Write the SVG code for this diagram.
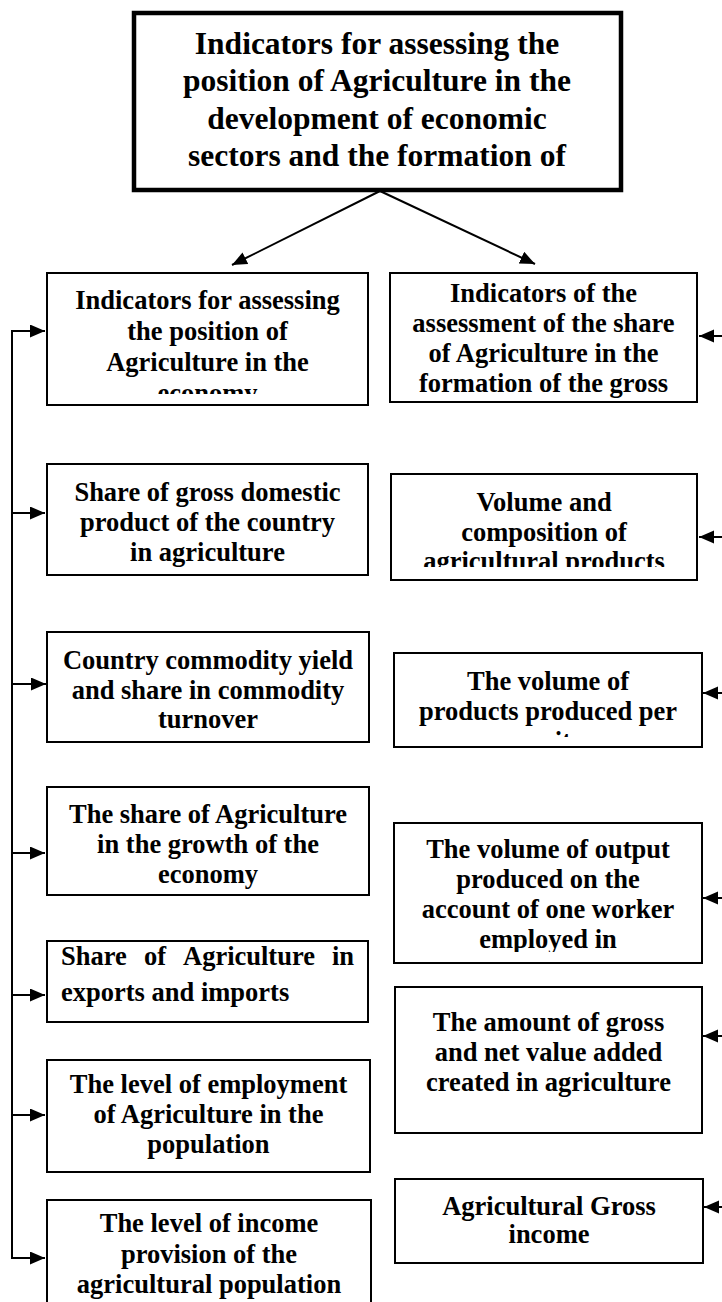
<svg xmlns="http://www.w3.org/2000/svg" width="722" height="1302" viewBox="0 0 722 1302">
<style>
.box{fill:#fff;stroke:#000;stroke-width:2}
.top{fill:#fff;stroke:#000;stroke-width:4.5}
.t{font-family:"Liberation Serif","Times New Roman",serif;font-weight:bold;font-size:26.5px;fill:#000;text-anchor:middle}
.tt{font-family:"Liberation Serif","Times New Roman",serif;font-weight:bold;font-size:31.5px;fill:#000;text-anchor:middle}
.tl{font-family:"Liberation Serif","Times New Roman",serif;font-weight:bold;font-size:26.5px;fill:#000}
.c{fill:none;stroke:#000;stroke-width:2}
</style>
<defs>
<marker id="ah" markerUnits="userSpaceOnUse" markerWidth="16" markerHeight="14" refX="15" refY="6.5" orient="auto">
<path d="M0,0 L15,6.5 L0,13 z" fill="#000"/>
</marker>
<clipPath id="cL1"><rect x="47" y="273" width="321" height="121"/></clipPath>
<clipPath id="cR2"><rect x="391" y="474" width="306" height="93"/></clipPath>
<clipPath id="cR3"><rect x="394" y="653" width="308" height="84"/></clipPath>
<clipPath id="cR4"><rect x="394" y="823" width="308" height="129"/></clipPath>
</defs>

<g id="connectors">
<line class="c" x1="380" y1="191" x2="232" y2="265" marker-end="url(#ah)"/>
<line class="c" x1="380" y1="191" x2="535" y2="264" marker-end="url(#ah)"/>
<line class="c" x1="12" y1="330" x2="12" y2="1259"/>
<line class="c" x1="11" y1="331" x2="45" y2="331" marker-end="url(#ah)"/>
<line class="c" x1="12" y1="513" x2="45" y2="513" marker-end="url(#ah)"/>
<line class="c" x1="12" y1="684" x2="46" y2="684" marker-end="url(#ah)"/>
<line class="c" x1="12" y1="853" x2="45" y2="853" marker-end="url(#ah)"/>
<line class="c" x1="12" y1="995" x2="45" y2="995" marker-end="url(#ah)"/>
<line class="c" x1="12" y1="1115" x2="45" y2="1115" marker-end="url(#ah)"/>
<line class="c" x1="11" y1="1258" x2="45" y2="1258" marker-end="url(#ah)"/>
<line class="c" x1="722" y1="336" x2="699" y2="336" marker-end="url(#ah)"/>
<line class="c" x1="722" y1="537" x2="699" y2="537" marker-end="url(#ah)"/>
<line class="c" x1="722" y1="693" x2="703" y2="693" marker-end="url(#ah)"/>
<line class="c" x1="722" y1="898" x2="703" y2="898" marker-end="url(#ah)"/>
<line class="c" x1="722" y1="1036" x2="703" y2="1036" marker-end="url(#ah)"/>
<line class="c" x1="722" y1="1207" x2="704" y2="1207" marker-end="url(#ah)"/>
</g>

<g id="n-top">
<rect class="top" x="134" y="13" width="487" height="177"/>
<text class="tt" x="377" y="54">Indicators for assessing the</text>
<text class="tt" x="377" y="91">position of Agriculture in the</text>
<text class="tt" x="377" y="128.5">development of economic</text>
<text class="tt" x="377" y="166">sectors and the formation of</text>
</g>

<g id="n-L1">
<rect class="box" x="47" y="273" width="321" height="132"/>
<g clip-path="url(#cL1)">
<text class="t" x="207.5" y="309">Indicators for assessing</text>
<text class="t" x="207.5" y="340">the position of</text>
<text class="t" x="207.5" y="371">Agriculture in the</text>
<text class="t" x="207.5" y="402">economy</text>
</g>
</g>

<g id="n-R1">
<rect class="box" x="390" y="273" width="307" height="129"/>
<text class="t" x="543.5" y="302">Indicators of the</text>
<text class="t" x="543.5" y="332">assessment of the share</text>
<text class="t" x="543.5" y="362">of Agriculture in the</text>
<text class="t" x="543.5" y="392">formation of the gross</text>
</g>

<g id="n-L2">
<rect class="box" x="47" y="464" width="321" height="111"/>
<text class="t" x="207.5" y="501">Share of gross domestic</text>
<text class="t" x="207.5" y="531">product of the country</text>
<text class="t" x="207.5" y="561">in agriculture</text>
</g>

<g id="n-R2">
<rect class="box" x="391" y="474" width="306" height="106"/>
<g clip-path="url(#cR2)">
<text class="t" x="544" y="511">Volume and</text>
<text class="t" x="544" y="540.5">composition of</text>
<text class="t" x="544" y="570">agricultural products</text>
</g>
</g>

<g id="n-L3">
<rect class="box" x="47" y="632" width="322" height="110"/>
<text class="t" x="208" y="669">Country commodity yield</text>
<text class="t" x="208" y="699">and share in commodity</text>
<text class="t" x="208" y="728">turnover</text>
</g>

<g id="n-R3">
<rect class="box" x="394" y="653" width="308" height="94"/>
<g clip-path="url(#cR3)">
<text class="t" x="548" y="690">The volume of</text>
<text class="t" x="548" y="720">products produced per</text>
<text class="t" x="548" y="750">unit</text>
</g>
</g>

<g id="n-L4">
<rect class="box" x="47" y="787" width="322" height="108"/>
<text class="t" x="208" y="823">The share of Agriculture</text>
<text class="t" x="208" y="853">in the growth of the</text>
<text class="t" x="208" y="883">economy</text>
</g>

<g id="n-R4">
<rect class="box" x="394" y="823" width="308" height="140"/>
<g clip-path="url(#cR4)">
<text class="t" x="548" y="858">The volume of output</text>
<text class="t" x="548" y="888">produced on the</text>
<text class="t" x="548" y="918">account of one worker</text>
<text class="t" x="548" y="948">employed in</text>
</g>
</g>

<g id="n-L5">
<rect class="box" x="47" y="941" width="321" height="81"/>
<text class="tl" y="965"><tspan x="61">Share</tspan><tspan x="144">of</tspan><tspan x="183">Agriculture</tspan><tspan x="332">in</tspan></text>
<text class="tl" x="61" y="1001">exports and imports</text>
</g>

<g id="n-R5">
<rect class="box" x="395" y="987" width="307" height="146"/>
<text class="t" x="548.5" y="1031">The amount of gross</text>
<text class="t" x="548.5" y="1061">and net value added</text>
<text class="t" x="548.5" y="1091">created in agriculture</text>
</g>

<g id="n-L6">
<rect class="box" x="47" y="1060" width="323" height="112"/>
<text class="t" x="208.5" y="1093">The level of employment</text>
<text class="t" x="208.5" y="1123">of Agriculture in the</text>
<text class="t" x="208.5" y="1153">population</text>
</g>

<g id="n-R6">
<rect class="box" x="395" y="1179" width="308" height="84"/>
<text class="t" x="549" y="1215">Agricultural Gross</text>
<text class="t" x="549" y="1243">income</text>
</g>

<g id="n-L7">
<rect class="box" x="47" y="1200" width="324" height="110"/>
<text class="t" x="209" y="1232">The level of income</text>
<text class="t" x="209" y="1263">provision of the</text>
<text class="t" x="209" y="1293">agricultural population</text>
</g>
</svg>
